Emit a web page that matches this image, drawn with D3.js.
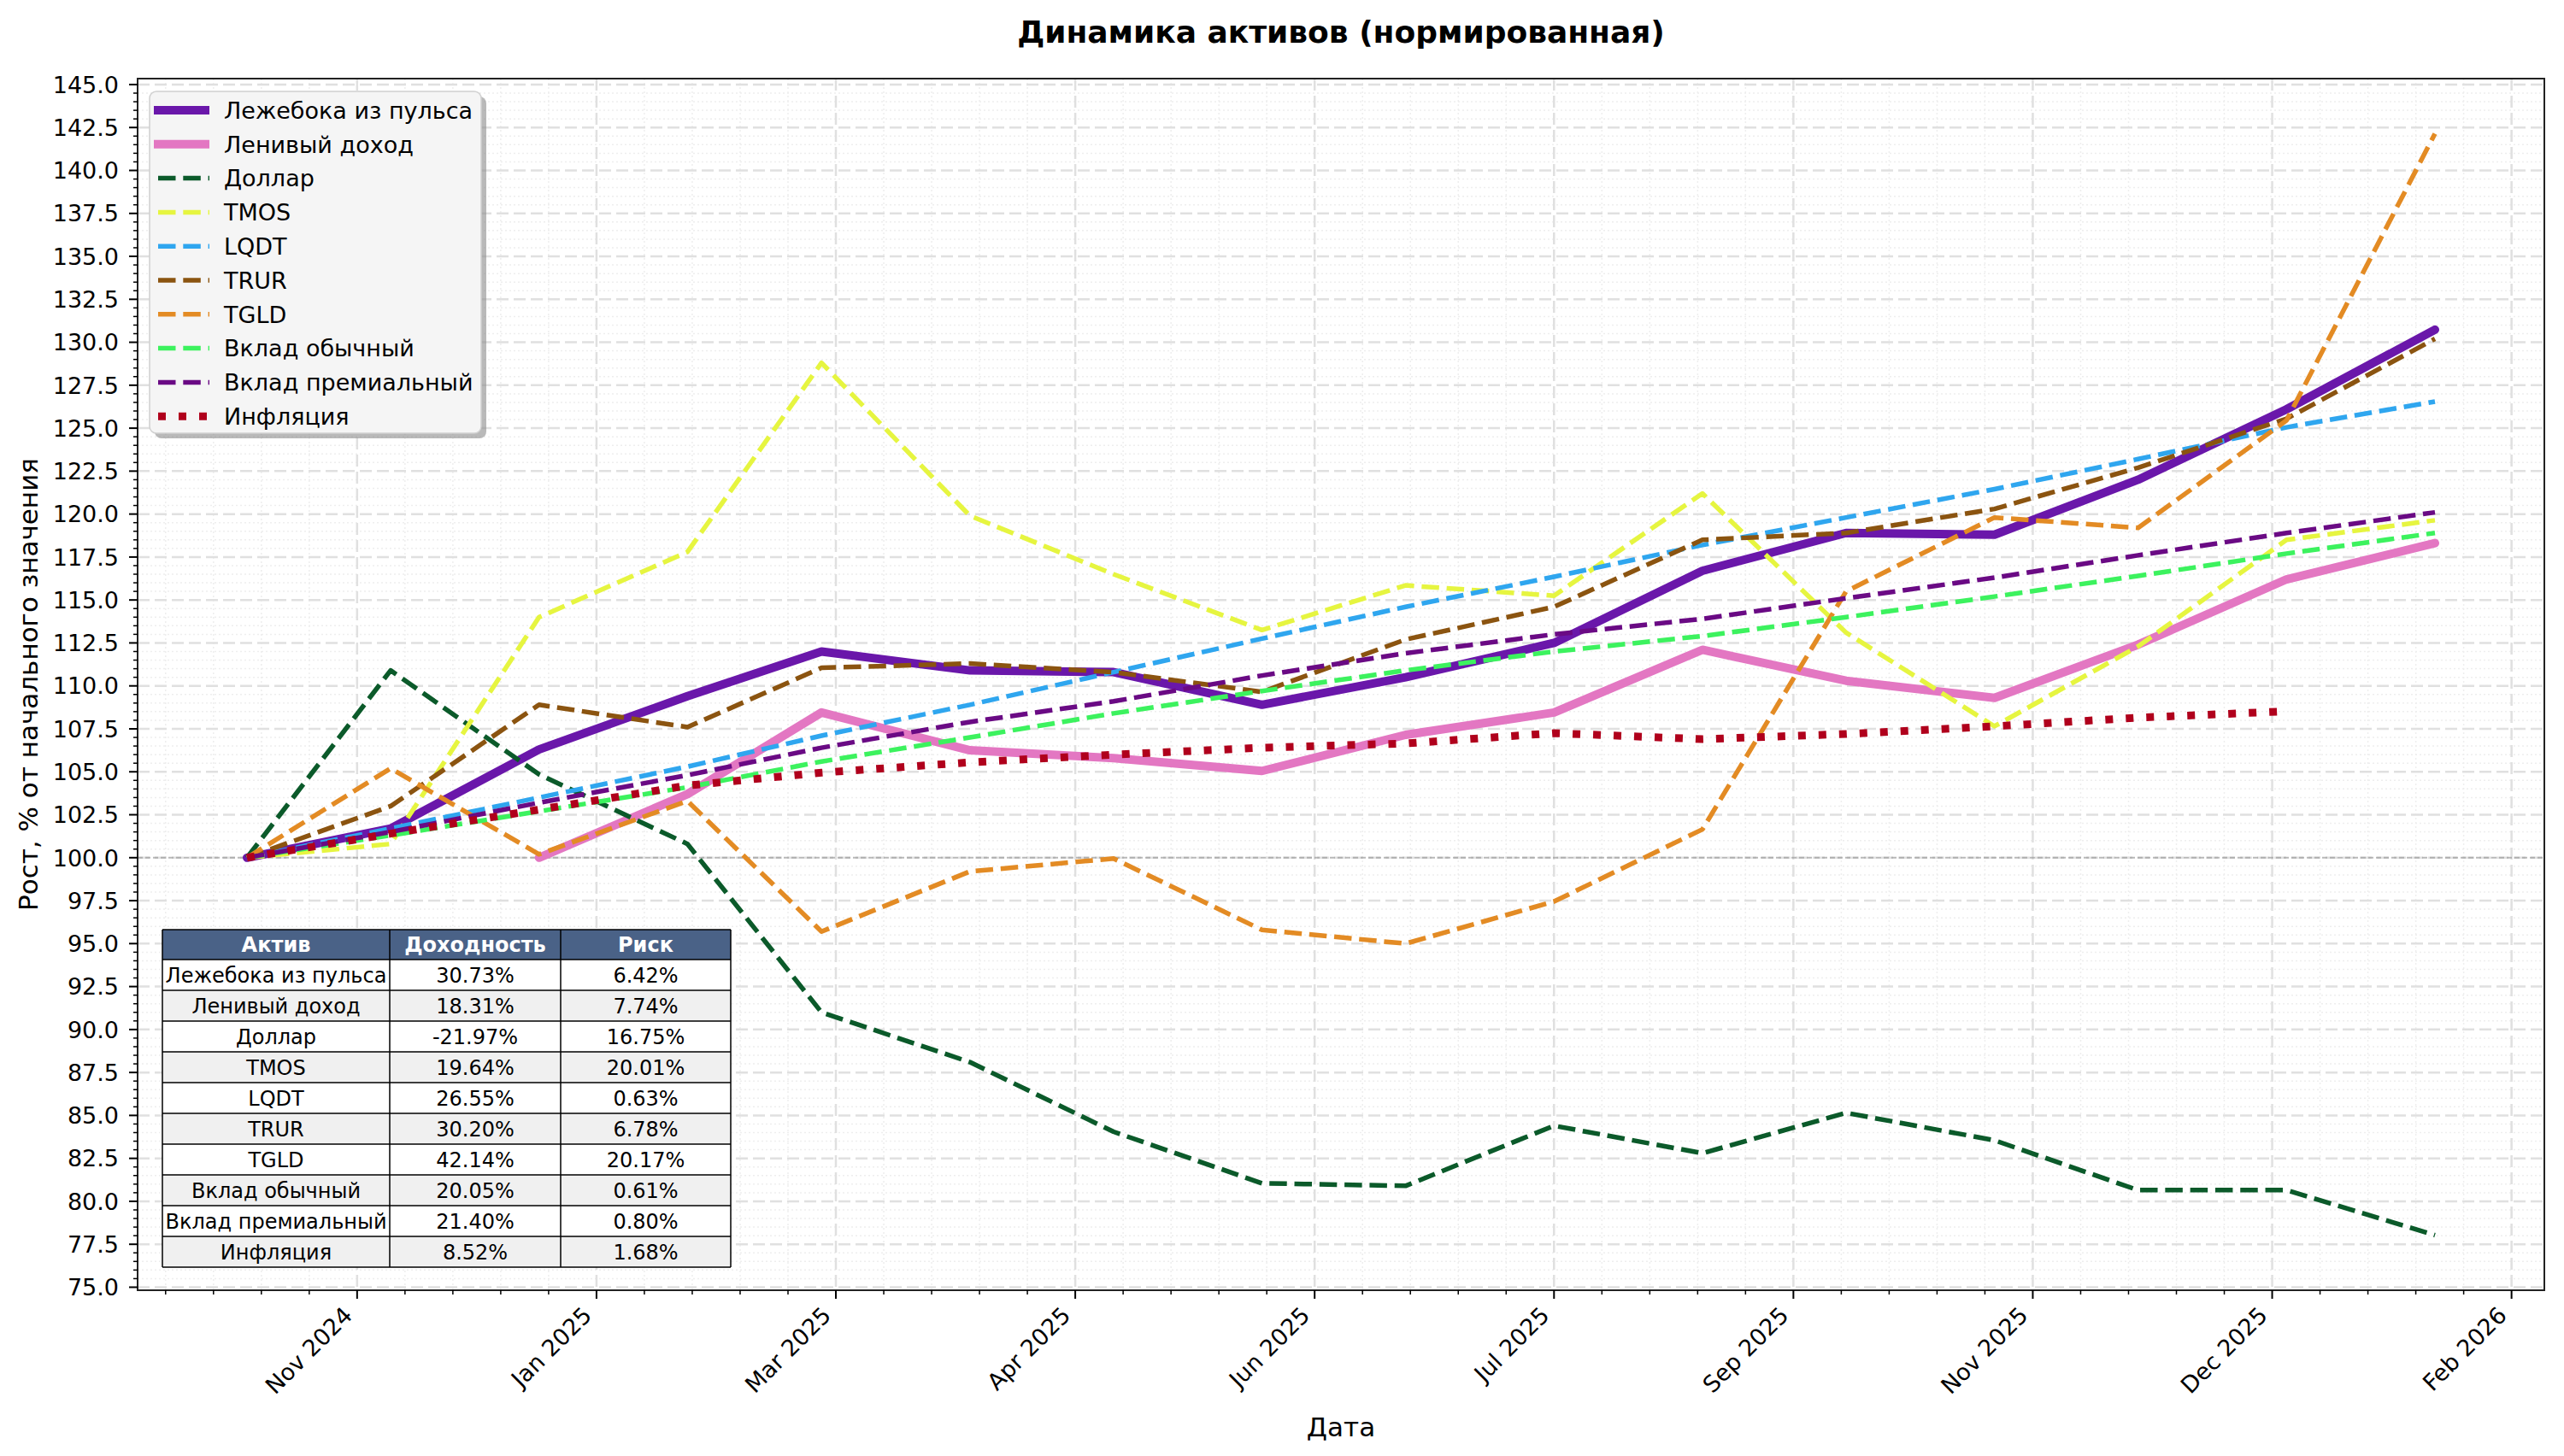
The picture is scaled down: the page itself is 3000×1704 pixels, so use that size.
<!DOCTYPE html>
<html>
<head>
<meta charset="utf-8">
<script src="https://cdn.jsdelivr.net/npm/d3@7"></script>
<style>
  body { margin: 0; background: #ffffff; }
  text { font-family: "DejaVu Sans", sans-serif; }
</style>
</head>
<body>
<svg id="chart"></svg>
<script>
// month-end dates
var dates = ["2024-10-31","2024-11-30","2024-12-31","2025-01-31","2025-02-28","2025-03-31",
    "2025-04-30","2025-05-31","2025-06-30","2025-07-31","2025-08-31","2025-09-30",
    "2025-10-31","2025-11-30","2025-12-31","2026-01-31"];

var assetNames = ["Лежебока из пульса","Ленивый доход","Доллар","TMOS","LQDT","TRUR","TGLD",
    "Вклад обычный","Вклад премиальный","Инфляция"];

// normalized values, 100 = start
var lezheboka  = [100, 101.7, 106.3, 109.4, 112.0, 110.9, 110.8, 108.9, 110.5, 112.5, 116.7, 118.9, 118.8, 122.0, 126.1, 130.73];
var lenivyi    = [null, null, 100, 103.7, 108.45, 106.25, 105.8, 105.05, 107.15, 108.45, 112.1, 110.3, 109.3, 112.4, 116.2, 118.31];
var dollar     = [100, 110.9, 104.85, 100.8, 91.0, 88.1, 84.05, 81.05, 80.9, 84.4, 82.8, 85.15, 83.55, 80.65, 80.65, 78.03];
var tmos       = [100, 100.8, 114.0, 117.8, 128.8, 119.9, 116.5, 113.25, 115.85, 115.25, 121.2, 113.1, 107.65, 112.3, 118.5, 119.64];
var lqdt       = [100, 101.7, 103.5, 105.3, 107.1, 108.9, 110.8, 112.75, 114.6, 116.35, 118.2, 119.8, 121.45, 123.2, 125.05, 126.55];
var trur       = [100, 103.0, 108.9, 107.6, 111.05, 111.3, 110.8, 109.65, 112.7, 114.6, 118.5, 118.9, 120.3, 122.7, 125.55, 130.2];
var tgld       = [100, 105.2, 100.2, 103.3, 95.7, 99.2, 99.95, 95.8, 95.0, 97.45, 101.65, 115.5, 119.8, 119.2, 125.45, 142.14];
var vkladObych = [100, 101.3, 102.7, 104.1, 105.6, 107.0, 108.4, 109.7, 110.9, 112.0, 112.9, 114.0, 115.2, 116.4, 117.7, 118.9];
var vkladPrem  = [100, 101.5, 103.2, 104.8, 106.4, 107.9, 109.1, 110.6, 111.9, 113.0, 113.9, 115.1, 116.3, 117.6, 118.9, 120.1];
var inflation  = [100, 101.4, 102.8, 104.2, 104.95, 105.55, 106.0, 106.4, 106.65, 107.25, 106.9, 107.2, 107.65, 108.15, 108.52, null];

// summary table
var tableHeader  = ["Актив", "Доходность", "Риск"];
var tableReturns = ["30.73%","18.31%","-21.97%","19.64%","26.55%","30.20%","42.14%","20.05%","21.40%","8.52%"];
var tableRisks   = ["6.42%","7.74%","16.75%","20.01%","0.63%","6.78%","20.17%","0.61%","0.80%","1.68%"];

// axis ticks
var xTickDates  = ["2024-11-23","2025-01-12","2025-03-03","2025-04-22","2025-06-11","2025-07-31",
    "2025-09-19","2025-11-08","2025-12-28","2026-02-16"];
var xTickLabels = ["Nov 2024","Jan 2025","Mar 2025","Apr 2025","Jun 2025","Jul 2025",
    "Sep 2025","Nov 2025","Dec 2025","Feb 2026"];
var yTickValues = [75, 77.5, 80, 82.5, 85, 87.5, 90, 92.5, 95, 97.5, 100, 102.5, 105, 107.5, 110,
    112.5, 115, 117.5, 120, 122.5, 125, 127.5, 130, 132.5, 135, 137.5, 140, 142.5, 145];

function main() {
    const W = 3000, H = 1704;
    const left = 161, right = 2977, top = 92, bottom = 1510;

    const parse = d3.utcParse("%Y-%m-%d");
    const xDates = dates.map(parse);

    const seriesValues = [lezheboka, lenivyi, dollar, tmos, lqdt, trur, tgld, vkladObych, vkladPrem, inflation];
    const styles = [
        {color: "#6a17aa", width: 10, dash: null},
        {color: "#e377c2", width: 10, dash: null},
        {color: "#0b5a2a", width: 5.5, dash: "20.5,8.8"},
        {color: "#e6f540", width: 5.5, dash: "20.5,8.8"},
        {color: "#2fa6ef", width: 5.5, dash: "20.5,8.8"},
        {color: "#8b5410", width: 5.5, dash: "20.5,8.8"},
        {color: "#e38b24", width: 5.5, dash: "20.5,8.8"},
        {color: "#3cf25e", width: 5.5, dash: "20.5,8.8"},
        {color: "#6a0a84", width: 5.5, dash: "20.5,8.8"},
        {color: "#b0001c", width: 9, dash: "9,15"}
    ];
    const series = assetNames.map((name, i) => ({
        name: name,
        points: xDates.map((d, j) => ({date: d, value: seriesValues[i][j]})),
        style: styles[i]
    }));

    // scales with 5% margins like matplotlib
    const xExt = d3.extent(xDates);
    const xPad = (xExt[1] - xExt[0]) * 0.05;
    const x = d3.scaleUtc()
        .domain([new Date(+xExt[0] - xPad), new Date(+xExt[1] + xPad)])
        .range([left, right]);

    const allVals = seriesValues.flat().filter(v => v != null);
    const yExt = d3.extent(allVals);
    const yPad = (yExt[1] - yExt[0]) * 0.05;
    const y = d3.scaleLinear()
        .domain([yExt[0] - yPad, yExt[1] + yPad])
        .range([bottom, top]);

    const svg = d3.select('#chart')
        .attr('width', W)
        .attr('height', H)
        .style('background', '#ffffff');

    // minor grid
    const yMinor = d3.range(75, 145.01, 0.5).filter(v => yTickValues.indexOf(v) < 0);
    const xMajor = xTickDates.map(parse);
    const xMinor = d3.range(-60, 470, 10)
        .map(o => d3.utcDay.offset(xMajor[0], o))
        .filter(d => d >= x.domain()[0] && d <= x.domain()[1] && o_notMajor(d));
    function o_notMajor(d) { return !xMajor.some(m => +m === +d); }

    const grid = svg.append('g');
    grid.selectAll('.ymin').data(yMinor).join('line')
        .attr('x1', left).attr('x2', right)
        .attr('y1', d => y(d)).attr('y2', d => y(d))
        .attr('stroke', '#eeeeee').attr('stroke-width', 1.5).attr('stroke-dasharray', '2,3');
    grid.selectAll('.xmin').data(xMinor).join('line')
        .attr('y1', top).attr('y2', bottom)
        .attr('x1', d => x(d)).attr('x2', d => x(d))
        .attr('stroke', '#eeeeee').attr('stroke-width', 1.5).attr('stroke-dasharray', '2,3');

    // major grid
    grid.selectAll('.ymaj').data(yTickValues).join('line')
        .attr('x1', left).attr('x2', right)
        .attr('y1', d => y(d)).attr('y2', d => y(d))
        .attr('stroke', '#e0e0e0').attr('stroke-width', 2.5).attr('stroke-dasharray', '14,6');
    grid.selectAll('.xmaj').data(xMajor).join('line')
        .attr('y1', top).attr('y2', bottom)
        .attr('x1', d => x(d)).attr('x2', d => x(d))
        .attr('stroke', '#e0e0e0').attr('stroke-width', 2.5).attr('stroke-dasharray', '14,6');

    // reference line at 100
    svg.append('line')
        .attr('x1', left).attr('x2', right)
        .attr('y1', y(100)).attr('y2', y(100))
        .attr('stroke', '#9a9a9a').attr('stroke-opacity', 0.7)
        .attr('stroke-width', 2).attr('stroke-dasharray', '6,3');

    // series lines
    const line = d3.line()
        .defined(d => d.value != null)
        .x(d => x(d.date))
        .y(d => y(d.value));

    svg.append('g').selectAll('path').data(series).join('path')
        .attr('d', d => line(d.points))
        .attr('fill', 'none')
        .attr('stroke', d => d.style.color)
        .attr('stroke-width', d => d.style.width)
        .attr('stroke-dasharray', d => d.style.dash)
        .attr('stroke-linejoin', 'round')
        .attr('stroke-linecap', d => d.style.dash ? 'butt' : 'round');

    // frame
    svg.append('rect')
        .attr('x', left).attr('y', top)
        .attr('width', right - left).attr('height', bottom - top)
        .attr('fill', 'none').attr('stroke', '#222').attr('stroke-width', 2);

    // y axis
    const yAxis = svg.append('g');
    yAxis.selectAll('.ymt').data(yMinor).join('line')
        .attr('x1', left - 5).attr('x2', left)
        .attr('y1', d => y(d)).attr('y2', d => y(d))
        .attr('stroke', '#000').attr('stroke-width', 1.5);
    yAxis.selectAll('.yt').data(yTickValues).join('line')
        .attr('x1', left - 10).attr('x2', left)
        .attr('y1', d => y(d)).attr('y2', d => y(d))
        .attr('stroke', '#000').attr('stroke-width', 2);
    yAxis.selectAll('text').data(yTickValues).join('text')
        .attr('x', left - 22)
        .attr('y', d => y(d))
        .attr('dy', '0.36em')
        .attr('text-anchor', 'end')
        .style('font-size', '27px')
        .text(d => d.toFixed(1));

    // x axis
    const xAxis = svg.append('g');
    xAxis.selectAll('.xmt').data(xMinor).join('line')
        .attr('x1', d => x(d)).attr('x2', d => x(d))
        .attr('y1', bottom).attr('y2', bottom + 5)
        .attr('stroke', '#000').attr('stroke-width', 1.5);
    xAxis.selectAll('.xt').data(xMajor).join('line')
        .attr('x1', d => x(d)).attr('x2', d => x(d))
        .attr('y1', bottom).attr('y2', bottom + 10)
        .attr('stroke', '#000').attr('stroke-width', 2);
    xAxis.selectAll('text').data(xMajor).join('text')
        .attr('transform', d => 'translate(' + (x(d) - 4) + ',' + (bottom + 31) + ') rotate(-45)')
        .attr('text-anchor', 'end')
        .style('font-size', '27px')
        .text((d, i) => xTickLabels[i]);

    // axis labels and title
    svg.append('text')
        .attr('x', (left + right) / 2).attr('y', 1681)
        .attr('text-anchor', 'middle')
        .style('font-size', '31px')
        .text('Дата');
    svg.append('text')
        .attr('transform', 'translate(44,' + ((top + bottom) / 2) + ') rotate(-90)')
        .attr('text-anchor', 'middle')
        .style('font-size', '31px')
        .text('Рост, % от начального значения');
    svg.append('text')
        .attr('x', (left + right) / 2).attr('y', 50)
        .attr('text-anchor', 'middle')
        .style('font-size', '36px')
        .style('font-weight', 'bold')
        .text('Динамика активов (нормированная)');

    // legend
    const lg = svg.append('g');
    const lgX = 175, lgY = 107, lgW = 388, lgH = 400, rowH = 39.8;
    lg.append('rect')
        .attr('x', lgX + 6).attr('y', lgY + 6).attr('width', lgW).attr('height', lgH)
        .attr('rx', 8).attr('fill', '#8a8a8a').attr('fill-opacity', 0.6);
    lg.append('rect')
        .attr('x', lgX).attr('y', lgY).attr('width', lgW).attr('height', lgH)
        .attr('rx', 8).attr('fill', '#f5f5f5').attr('stroke', '#d0d0d0').attr('stroke-width', 1.5);
    const items = lg.selectAll('.item').data(series).join('g')
        .attr('transform', (d, i) => 'translate(0,' + (lgY + 22 + i * rowH) + ')');
    items.append('line')
        .attr('x1', 180).attr('x2', 245)
        .attr('stroke', d => d.style.color)
        .attr('stroke-width', d => d.style.width)
        .attr('stroke-dasharray', d => d.style.dash)
        .attr('stroke-dashoffset', d => d.style.dash ? -5 : 0);
    items.append('text')
        .attr('x', 262).attr('dy', '0.36em')
        .style('font-size', '27px')
        .text(d => d.name);

    // table
    const tb = svg.append('g');
    const tX = 190, tY = 1088, headH = 35, rH = 36;
    const colX = [190, 456, 656, 855];
    tb.append('rect')
        .attr('x', tX).attr('y', tY).attr('width', colX[3] - colX[0]).attr('height', headH)
        .attr('fill', '#4a6287');
    tableHeader.forEach(function(h, c) {
        tb.append('text')
            .attr('x', (colX[c] + colX[c + 1]) / 2).attr('y', tY + headH / 2)
            .attr('dy', '0.36em').attr('text-anchor', 'middle')
            .style('font-size', '24px').style('font-weight', 'bold').attr('fill', '#ffffff')
            .text(h);
    });
    assetNames.forEach(function(name, r) {
        const ry = tY + headH + r * rH;
        tb.append('rect')
            .attr('x', tX).attr('y', ry).attr('width', colX[3] - colX[0]).attr('height', rH)
            .attr('fill', r % 2 == 0 ? '#ffffff' : '#f0f0f0');
        [name, tableReturns[r], tableRisks[r]].forEach(function(t, c) {
            tb.append('text')
                .attr('x', (colX[c] + colX[c + 1]) / 2).attr('y', ry + rH / 2)
                .attr('dy', '0.36em').attr('text-anchor', 'middle')
                .style('font-size', '24px').attr('fill', '#000')
                .text(t);
        });
    });
    const tBottom = tY + headH + assetNames.length * rH;
    d3.range(assetNames.length + 1).forEach(function(r) {
        const ly = tY + headH + r * rH;
        tb.append('line').attr('x1', colX[0]).attr('x2', colX[3]).attr('y1', ly).attr('y2', ly)
            .attr('stroke', '#000').attr('stroke-width', 1.5);
    });
    tb.append('line').attr('x1', colX[0]).attr('x2', colX[3]).attr('y1', tY).attr('y2', tY)
        .attr('stroke', '#000').attr('stroke-width', 1.5);
    colX.forEach(function(cx) {
        tb.append('line').attr('x1', cx).attr('x2', cx).attr('y1', tY).attr('y2', tBottom)
            .attr('stroke', '#000').attr('stroke-width', 1.5);
    });
}
main();
</script>
</body>
</html>
